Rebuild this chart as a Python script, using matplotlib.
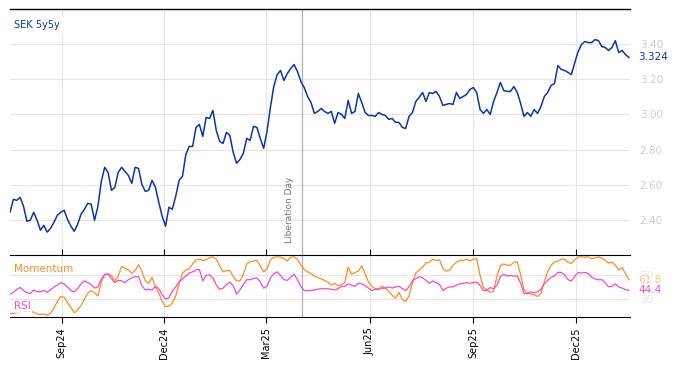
import numpy as np
import pandas as pd
import matplotlib
matplotlib.use("Agg")
import matplotlib.pyplot as plt
import matplotlib.dates as mdates

# SEK 5y5y forward, sampled every 3 days
dates = pd.date_range("2024-07-17", periods=184, freq="3D")

sek_5y5y = [
    2.443, 2.517, 2.511, 2.528, 2.477, 2.392, 2.398, 2.443, 2.398, 2.341,
    2.369, 2.330, 2.352, 2.386, 2.426, 2.443, 2.455, 2.403, 2.364, 2.335,
    2.375, 2.432, 2.460, 2.494, 2.489, 2.398, 2.477, 2.619, 2.699, 2.670,
    2.568, 2.585, 2.670, 2.699, 2.676, 2.653, 2.608, 2.699, 2.693, 2.602,
    2.562, 2.568, 2.625, 2.585, 2.500, 2.420, 2.364, 2.472, 2.460, 2.534,
    2.625, 2.648, 2.773, 2.818, 2.818, 2.926, 2.943, 2.875, 2.983, 2.977,
    3.023, 2.909, 2.847, 2.835, 2.898, 2.881, 2.784, 2.722, 2.744, 2.778,
    2.864, 2.852, 2.932, 2.926, 2.864, 2.807, 2.903, 3.040, 3.159, 3.227,
    3.250, 3.193, 3.233, 3.261, 3.284, 3.244, 3.188, 3.153, 3.102, 3.068,
    3.006, 3.017, 3.034, 3.017, 3.006, 3.017, 2.949, 3.011, 3.000, 2.977,
    3.080, 3.006, 3.017, 3.119, 3.068, 3.011, 2.994, 2.994, 2.989, 3.011,
    3.000, 2.994, 2.972, 2.977, 2.955, 2.955, 2.926, 2.920, 2.989, 3.011,
    3.074, 3.097, 3.125, 3.074, 3.125, 3.119, 3.131, 3.102, 3.051, 3.057,
    3.062, 3.057, 3.125, 3.091, 3.102, 3.114, 3.142, 3.153, 3.125, 3.028,
    3.006, 3.028, 3.000, 3.074, 3.125, 3.182, 3.136, 3.131, 3.131, 3.159,
    3.125, 3.062, 2.989, 3.011, 2.989, 3.028, 3.006, 3.045, 3.102, 3.125,
    3.165, 3.176, 3.278, 3.256, 3.250, 3.239, 3.227, 3.295, 3.358, 3.398,
    3.415, 3.409, 3.409, 3.426, 3.420, 3.386, 3.381, 3.364, 3.381, 3.420,
    3.352, 3.364, 3.341, 3.324,
]

momentum = [
    6, 6, 7, 8, 9, 9, 9, 8, 5, 4,
    5, 3, 6, 15, 26, 34, 33, 24, 16, 7,
    12, 19, 30, 39, 44, 40, 35, 58, 70, 72,
    69, 60, 68, 84, 81, 78, 73, 77, 87, 76,
    60, 56, 66, 50, 40, 26, 17, 18, 23, 35,
    55, 73, 78, 80, 88, 95, 96, 94, 95, 99,
    100, 96, 85, 75, 77, 77, 67, 60, 60, 71,
    88, 92, 93, 94, 85, 75, 80, 95, 99, 100,
    99.5, 97, 93, 99.5, 100, 96, 86, 79, 75, 72,
    68, 65.5, 63.5, 61, 58, 53, 56, 52, 54, 57,
    83, 71, 74, 76, 85, 72, 58, 51, 47, 47,
    51, 48, 43, 36, 31, 41, 29, 26, 35, 57,
    73, 78, 83, 90, 91, 96, 94, 95, 81, 76,
    78, 86, 91, 94, 94, 96, 93, 96, 97, 69,
    49, 45, 41, 43, 68, 85, 88, 86, 86, 91,
    91, 70, 45, 40, 38, 37, 34, 39, 59, 75,
    86, 91, 93, 96, 96, 91, 89, 95, 100, 100,
    99.5, 100, 97, 98, 100, 98, 94, 89.5, 91, 86,
    78, 82, 72, 61.8,
]

rsi = [
    38, 41, 46, 49, 44, 40, 39, 45, 42, 42,
    44, 41, 45, 50, 53, 57, 55, 50, 44, 42,
    47, 55, 60, 57, 54, 48, 50, 63, 71, 71,
    64, 57, 61, 60, 57, 62, 65, 67, 67, 52,
    45, 46, 45, 51, 47, 37, 30, 32, 43, 50,
    58, 63, 68, 73, 75, 78, 79, 60, 69, 70,
    65, 53, 46, 48, 54, 58, 52, 38, 45, 54,
    62, 62, 64, 65, 58, 48, 51, 65, 72, 75,
    69, 62, 61, 66, 71, 62, 51, 44, 44, 44,
    45, 46, 47, 47, 47, 46, 45, 47, 51, 51,
    55, 53, 51, 56, 55, 52, 48, 44, 46, 46,
    48, 48, 50, 48, 50, 51, 47, 44, 50, 60,
    64, 67, 65, 61, 56, 60, 57, 54, 44, 48,
    50, 50, 53, 55, 56, 57, 56, 57, 58, 52,
    44, 44, 49, 47, 53, 67, 71, 68, 69, 68,
    68, 56, 39, 39, 42, 40, 42, 46, 55, 61,
    66, 68, 74, 74, 70, 62, 60, 68, 74, 73,
    74, 72, 66, 63, 62, 62, 57, 50, 51, 55,
    50, 48, 45.5, 44.4,
]

price_ticks = [2.4, 2.6, 2.8, 3.0, 3.2, 3.4]
osc_ticks = [30, 70]
event_date = pd.Timestamp("2025-04-02")
event_label = "Liberation Day"

blue = "#0b36a8"
orange = "#ff8c1a"
magenta = "#f548cf"
grid_c = "#e6e6e6"
label_grey = "#cccccc"

fig = plt.figure(figsize=(6.74, 3.66), dpi=100)
ax = fig.add_axes([10 / 674, 1 - 255 / 366, 620 / 674, 246 / 366])
ax2 = fig.add_axes([10 / 674, 1 - 317 / 366, 620 / 674, 62 / 366], sharex=ax)

xmin, xmax = pd.Timestamp("2024-07-17"), pd.Timestamp("2026-01-18")

# price panel
ax.plot(dates, sek_5y5y, color=blue, lw=1.1, zorder=3)
ax.set_xlim(xmin, xmax)
ax.set_ylim(2.2, 3.6)
ax.set_yticks(price_ticks)
ax.set_yticklabels([f"{v:.2f}" for v in price_ticks])
ax.yaxis.tick_right()
ax.tick_params(axis="y", length=0, pad=7, labelsize=7.5, labelcolor=label_grey)
ax.tick_params(axis="x", bottom=False, labelbottom=False)
ax.grid(True, color=grid_c, lw=0.8)
ax.set_axisbelow(True)
for s in ["left", "right", "bottom"]:
    ax.spines[s].set_visible(False)
ax.spines["top"].set_linewidth(1.0)

ax.axvline(event_date, color="#b0b0b0", lw=0.9, zorder=2)
ax.annotate(event_label, xy=(event_date, 2.27), xytext=(-9, 0),
            textcoords="offset points", rotation=90, ha="center", va="bottom",
            fontsize=6.5, color="#777777")

ax.text(0.006, 0.935, "SEK 5y5y", transform=ax.transAxes, fontsize=7,
        color=blue, va="center", ha="left",
        bbox=dict(facecolor="white", edgecolor="none", pad=3))
ax.annotate(f"{sek_5y5y[-1]:.3f}", xy=(1, sek_5y5y[-1]),
            xycoords=("axes fraction", "data"), xytext=(6, 0),
            textcoords="offset points", va="center", fontsize=7.5, color=blue)

# oscillator panel
ax2.plot(dates, momentum, color=orange, lw=0.9, zorder=3)
ax2.plot(dates, rsi, color=magenta, lw=0.9, zorder=3)
ax2.set_ylim(0, 103)
ax2.set_yticks(osc_ticks)
ax2.yaxis.tick_right()
ax2.tick_params(axis="y", length=0, pad=7, labelsize=7.5, labelcolor="#e4e4e4")
ax2.grid(True, color=grid_c, lw=0.8)
ax2.set_axisbelow(True)
ax2.axvline(event_date, color="#b0b0b0", lw=0.9, zorder=2)
for s in ["left", "right"]:
    ax2.spines[s].set_visible(False)

ax2.xaxis.set_major_locator(mdates.MonthLocator(bymonth=[3, 6, 9, 12]))
ax2.xaxis.set_major_formatter(mdates.DateFormatter("%b%y"))
ax2.tick_params(axis="x", top=True, bottom=True, direction="out", length=4,
                labelsize=7, rotation=90)

ax2.text(0.006, 0.78, "Momentum", transform=ax2.transAxes, fontsize=7.5,
         color=orange, va="center", ha="left")
ax2.text(0.006, 0.17, "RSI", transform=ax2.transAxes, fontsize=7.5,
         color=magenta, va="center", ha="left",
         bbox=dict(facecolor="white", edgecolor="none", alpha=0.8, pad=1))
ax2.annotate(f"{momentum[-1]:.1f}", xy=(1, momentum[-1]),
             xycoords=("axes fraction", "data"), xytext=(6, 0),
             textcoords="offset points", va="center", fontsize=7.5,
             color="#ffbf80")
ax2.annotate(f"{rsi[-1]:.1f}", xy=(1, rsi[-1]),
             xycoords=("axes fraction", "data"), xytext=(6, 0),
             textcoords="offset points", va="center", fontsize=7.5,
             color=magenta)

fig.savefig("out.png", dpi=100)
